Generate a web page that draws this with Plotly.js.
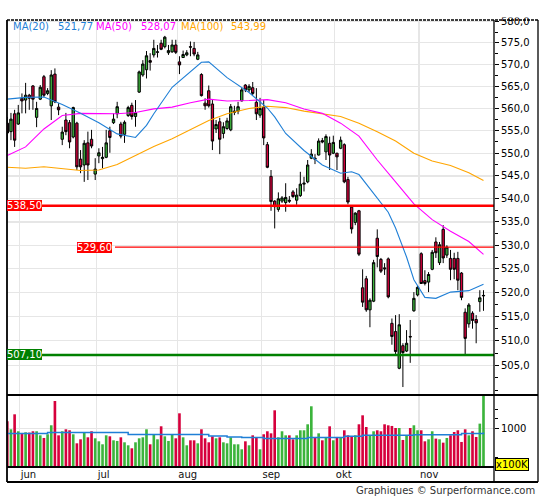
<!DOCTYPE html>
<html><head><meta charset="utf-8">
<script src="https://cdn.plot.ly/plotly-3.0.1.min.js"></script>
<style>html,body{margin:0;padding:0;background:#fff}#chart{width:545px;height:500px}</style>
</head><body><div id="chart"></div>
<script>
// ---- data ----
const open = [556.7,554.8,558.8,556.5,562.3,561.9,563.0,565.1,558.0,562.1,
567.2,563.4,560.6,567.8,560.3,553.1,557.4,556.8,553.6,556.7,
548.7,547.4,552.3,553.1,545.4,549.4,548.8,549.1,555.0,556.8,
558.8,556.5,554.2,558.4,560.7,558.2,563.7,567.6,568.8,570.9,
572.2,572.8,574.9,574.1,572.7,572.9,574.5,570.6,571.6,572.2,
574.1,573.7,571.2,567.7,561.2,564.0,561.0,555.4,557.0,554.4,
555.5,555.2,559.1,559.4,561.7,565.3,564.2,564.7,561.4,558.5,
560.3,551.9,544.9,539.5,537.7,539.5,539.2,539.7,541.5,539.7,
540.7,543.2,543.7,548.9,548.9,549.6,552.8,550.3,552.2,550.0,
550.0,551.1,551.9,544.2,538.2,534.9,537.4,521.0,522.9,516.4,
518.2,531.5,527.0,525.2,527.1,513.6,511.9,504.4,509.0,507.9,
510.9,516.2,519.5,528.2,522.5,522.2,524.9,530.7,526.3,533.4,
527.9,527.2,527.2,527.2,524.1,515.9,513.5,515.7,514.4,518.1,
519.3];
const high = [558.1,559.0,559.7,560.8,563.4,565.8,563.3,565.3,561.5,565.3,
567.6,564.6,568.7,569.1,561.2,555.9,559.0,557.4,560.4,557.0,
550.7,552.9,554.8,555.2,548.9,551.1,551.4,555.2,555.9,558.9,
561.5,557.0,557.3,560.6,561.3,561.9,568.6,571.0,573.1,572.6,
575.7,574.5,575.7,576.6,574.5,575.7,575.7,571.9,573.2,573.3,
575.3,575.2,572.9,568.0,562.3,565.2,561.9,557.4,557.9,556.9,
557.9,561.0,560.6,561.5,564.6,565.5,565.5,566.0,564.6,562.4,
561.9,552.5,546.3,539.7,541.4,540.6,543.4,540.6,541.9,542.3,
545.9,544.8,548.5,550.9,549.8,553.3,553.4,554.2,553.7,553.9,
550.1,553.7,552.2,544.8,538.5,537.1,537.6,524.9,523.5,518.8,
526.9,533.4,527.3,526.2,527.4,514.6,515.3,515.5,509.5,512.2,
514.3,520.1,521.5,528.5,524.7,524.3,529.0,531.7,530.7,534.3,
530.0,529.0,528.4,528.6,524.3,516.7,517.8,516.1,515.3,520.5,
520.5];
const low = [550.3,552.9,551.4,556.3,558.9,558.9,559.7,559.7,555.8,561.9,
562.6,563.0,557.4,561.2,558.5,551.8,554.0,551.1,553.3,546.3,
545.6,543.7,544.1,551.1,544.1,547.8,546.7,548.9,550.1,556.5,
557.8,553.3,552.3,558.1,557.5,555.9,563.5,567.2,566.8,568.6,
571.6,571.6,573.3,573.7,572.2,572.7,572.4,567.8,571.5,571.9,
571.9,571.9,571.0,562.7,559.7,560.2,550.7,554.5,549.8,553.3,
555.2,554.9,558.5,558.7,561.6,563.7,563.7,563.0,557.4,557.9,
551.8,546.7,537.4,533.6,537.2,539.1,537.2,539.1,540.2,538.7,
540.4,541.6,543.4,548.7,547.6,549.5,552.2,548.5,546.3,549.8,
546.3,550.9,543.4,538.8,532.5,534.3,527.7,517.0,516.0,512.8,
518.0,525.3,524.1,523.7,518.8,509.2,507.1,504.2,500.6,507.7,
505.5,516.0,519.2,521.8,521.5,520.1,524.7,527.3,525.8,526.2,
527.3,522.6,522.8,520.5,518.4,506.9,512.7,512.5,509.5,516.0,
516.2];
const close = [554.5,557.6,552.9,559.0,561.7,563.0,562.3,562.1,560.0,564.8,
563.0,564.0,567.6,561.5,559.7,554.7,554.8,552.5,560.2,547.0,
547.0,552.2,547.4,551.6,546.5,550.1,549.1,552.3,553.5,557.6,
560.4,553.8,556.9,560.2,558.2,559.0,568.3,570.1,572.0,570.5,
573.7,572.9,573.5,576.3,573.2,574.5,572.8,569.9,572.3,572.7,
574.0,572.4,572.2,562.9,560.6,560.6,552.7,556.4,553.1,555.9,
557.2,560.4,559.4,560.4,564.2,564.2,565.0,563.4,558.8,560.0,
553.4,546.9,539.4,538.3,540.0,540.2,540.3,539.5,540.5,540.8,
543.2,543.4,547.4,549.8,548.7,552.7,552.5,553.7,549.6,552.4,
549.2,552.9,543.7,539.3,533.5,536.9,528.1,518.0,516.4,518.4,
526.3,527.6,524.5,525.0,519.1,510.9,507.8,513.3,507.6,509.5,
510.8,518.8,521.1,521.9,521.9,523.8,528.5,528.4,530.1,527.3,
529.6,524.9,524.9,522.6,519.0,510.5,517.4,514.2,513.7,518.9,
519.4];
// volume in units of 100K
const volume = [1190,982,1372,930,886,904,895,930,930,825,
756,852,1086,1719,825,930,982,956,852,617,
721,895,773,930,747,669,591,825,799,695,
678,773,643,565,487,643,747,773,982,591,
834,721,1060,799,678,843,747,1398,773,565,
695,695,617,982,747,643,799,747,773,643,
617,773,591,591,461,669,565,825,773,461,
852,930,877,1476,773,930,825,825,721,825,
956,956,1112,1581,756,877,695,782,1060,695,
782,782,956,825,782,825,1112,1346,1042,825,
930,956,930,1112,1086,1069,1016,1016,704,825,
1016,1086,956,956,669,721,930,739,721,634,
756,825,912,956,652,982,825,930,782,1129,
1849];
// moving averages (session index, value)
const ma20Idx = [0,5,10,15,20,25,30,35,38,40,45,50,53,55,60,66,71,73,76,81,86,91,94,96,101,104,106,109,111,114,117,121,126,130];
const ma20 = [562.1,562.5,562.6,560.9,558.9,556.8,554.3,553.5,556.2,558.8,564.8,568.4,570.5,570.6,567.0,563.6,560.1,558.1,554.4,550.6,547.4,545.6,545.9,545.3,540.2,537.1,533.7,527.5,522.7,519.0,518.8,520.1,520.4,521.77];
const maIdx = [0,5,10,15,20,25,30,35,40,45,50,55,60,66,71,76,81,86,91,96,101,106,111,116,121,126,130];
const ma50 = [549.5,551.4,555.4,558.4,558.9,558.9,558.8,559.1,559.9,560.3,561.3,562.1,561.7,561.8,562.0,561.3,559.9,558.9,556.7,553.8,548.5,543.7,538.9,535.5,533.0,530.8,528.07];
const ma100 = [546.9,546.7,547.0,546.6,546.2,546.3,547.5,549.5,551.5,553.2,555.2,557.3,558.8,560.0,560.5,560.2,559.4,558.8,558.2,556.7,554.8,552.7,550.0,548.3,547.3,545.7,543.99];
const volMaIdx = [0,11,33,55,60,64,70,82,92,97,111,124,130];
const volMa = [870,896,844,807,781,766,739,766,799,825,843,870,896];
// horizontal levels
const levels = [538.5, 529.6, 507.1];
// month axis
const monthNames = ['jun','jul','aug','sep','okt','nov'];
const monthStart = [4,25,47,70,90,113];
// price axis ticks
const yTicks = [505,510,515,520,525,530,535,540,545,550,555,560,565,570,575,580];
const yMinor = [500,502.5,507.5,512.5,517.5,522.5,527.5,532.5,537.5,542.5,547.5,552.5,557.5,562.5,567.5,572.5,577.5];
const vTicks = [1000];
const vMinor = [250,1250,1500];

// ---- styling ----
const GREEN = '#3cb43c', RED = '#d6003c';
const BLUE = '#1f7fd6', MAG = '#ff00ff', ORANGE = '#ffa500';
const levelStyle = [
  {color:'#ff0000', width:2.4, start:-2, labelPx:7},
  {color:'#ff0000', width:1.2, start:29.4, labelPx:77.3},
  {color:'#008000', width:2.4, start:-2, labelPx:7}
];
const FONT = 'DejaVu Sans, Verdana, sans-serif';
const fmt = (v, d) => v.toFixed(d).replace('.', ',');
const PX = px => (px - 7) / 487;
const PY = py => (467 - py) / 447;

const idx = open.map((_, i) => i);
const up = close.map((c, i) => c >= open[i]);

const traces = [];
traces.push({
  type:'bar', x: idx, y: volume, yaxis:'y2', xaxis:'x',
  marker:{color: up.map(u => u ? GREEN : RED), line:{width:0}},
  width: 0.72, hoverinfo:'skip'
});
traces.push({
  type:'scatter', mode:'lines', x: volMaIdx, y: volMa, yaxis:'y2',
  line:{color: BLUE, width:1.5, shape:'hv'}, hoverinfo:'skip'
});
traces.push({
  type:'candlestick', x: idx, open, high, low, close, yaxis:'y',
  increasing:{line:{color:'#000', width:1}, fillcolor: GREEN},
  decreasing:{line:{color:'#000', width:1}, fillcolor: RED},
  whiskerwidth: 0, hoverinfo:'skip'
});
traces.push({type:'scatter', mode:'lines', x: maIdx, y: ma100, line:{color:ORANGE, width:1.1}, hoverinfo:'skip'});
traces.push({type:'scatter', mode:'lines', x: maIdx, y: ma50, line:{color:MAG, width:1.1}, hoverinfo:'skip'});
traces.push({type:'scatter', mode:'lines', x: ma20Idx, y: ma20, line:{color:BLUE, width:1.1}, hoverinfo:'skip'});
levels.forEach((lv, k) => {
  traces.push({type:'scatter', mode:'lines', x:[levelStyle[k].start, 140], y:[lv, lv],
    line:{color: levelStyle[k].color, width: levelStyle[k].width}, hoverinfo:'skip'});
});

const annotations = [];
const legendItems = [
  {t:'MA(20)', c:BLUE, px:11}, {t: fmt(ma20[ma20.length-1], 2), c:BLUE, px:56},
  {t:'MA(50)', c:MAG, px:94}, {t: fmt(ma50[ma50.length-1], 2), c:MAG, px:139},
  {t:'MA(100)', c:ORANGE, px:179}, {t: fmt(ma100[ma100.length-1], 2), c:ORANGE, px:229}
];
legendItems.forEach(it => annotations.push({
  xref:'paper', yref:'paper', x: PX(it.px), y: PY(26.7), xanchor:'left', yanchor:'middle',
  text: it.t, showarrow:false, font:{family:FONT, size:10, color: it.c}
}));
levels.forEach((lv, k) => annotations.push({
  xref:'paper', yref:'y', x: PX(levelStyle[k].labelPx), y: Math.log10(lv), xanchor:'left', yanchor:'middle',
  text: fmt(lv, 2), showarrow:false, bgcolor: levelStyle[k].color, borderpad:0, borderwidth:0,
  font:{family:FONT, size:10, color:'#ffffff'}
}));
annotations.push({
  xref:'paper', yref:'paper', x: PX(495), y: PY(464.3), xanchor:'left', yanchor:'middle',
  text:'x100K', showarrow:false, bgcolor:'#ffff00', bordercolor:'#000', borderwidth:1, borderpad:0,
  font:{family:FONT, size:10, color:'#000'}
});
annotations.push({
  xref:'paper', yref:'paper', x: PX(537), y: PY(491), xanchor:'right', yanchor:'middle',
  text:'Graphiques © Surperformance.com', showarrow:false,
  font:{family:FONT, size:10, color:'#333'}
});

const ln = (x0, y0, x1, y1, extra) => Object.assign({type:'line', xref:'paper', yref:'paper',
  x0: PX(x0), y0: PY(y0), x1: PX(x1), y1: PY(y1), line:{color:'#000', width:1.3}}, extra || {});
const shapes = [
  {type:'rect', xref:'paper', yref:'paper', x0: PX(495), x1: PX(537), y0: PY(17.5), y1: PY(0),
   fillcolor:'#ffffff', line:{width:0}, layer:'above'},
  ln(7, 20, 7, 482, {line:{color:'#000', width:1.8}}),
  ln(494, 20, 494, 482),
  ln(538, 20, 538, 482),
  ln(7, 20, 538, 20, {line:{color:'#000', width:1.3, dash:'3px,1px'}}),
  ln(7, 482, 538, 482, {line:{color:'#000', width:1.8}}),
  ln(7, 395, 538, 395, {line:{color:'#000', width:1.8}}),
  ln(7, 467, 494, 467, {line:{color:'#000', width:1.8}})
];

const GRID = '#e6e6e6';
const layout = {
  width:545, height:500,
  margin:{l:7, r:51, t:20, b:33, pad:0},
  paper_bgcolor:'#fff', plot_bgcolor:'#fff',
  showlegend:false, hovermode:false, dragmode:false,
  font:{family:FONT, size:10, color:'#000'},
  boxgap:0.2, boxgroupgap:0.2,
  xaxis:{
    type:'linear', range:[-0.08, 132.87], anchor:'y2',
    tickmode:'array', tickvals: monthStart.map(s => s - 0.6), ticktext: monthNames,
    ticks:'', showgrid:true, gridcolor:GRID, gridwidth:1.2, zeroline:false, showline:false,
    ticklabelposition:'outside right', ticklabelshift:1,
    tickfont:{family:FONT, size:10, color:'#111'},
    rangeslider:{visible:false}, fixedrange:true
  },
  yaxis:{
    type:'log', domain:[0.1611, 1], range:[Math.log10(499.0), Math.log10(580.3)],
    side:'right', anchor:'x',
    tickmode:'array', tickvals: yTicks, ticktext: yTicks.map(v => fmt(v, 1)),
    ticks:'outside', ticklen:4, tickcolor:'#000', tickwidth:1,
    showgrid:true, gridcolor:GRID, gridwidth:1.2, zeroline:false, showline:false,
    minor:{tickmode:'array', tickvals: yMinor, ticks:'outside', ticklen:3, tickcolor:'#000', showgrid:false},
    tickfont:{family:FONT, size:10, color:'#000'}, fixedrange:true
  },
  yaxis2:{
    domain:[0, 0.1611], range:[0, 1875], side:'right', anchor:'x',
    tickmode:'array', tickvals: vTicks, ticktext: vTicks.map(String),
    ticks:'outside', ticklen:4, tickcolor:'#000',
    showgrid:true, gridcolor:GRID, gridwidth:1.2, zeroline:false, showline:false,
    minor:{tickmode:'array', tickvals: vMinor, ticks:'outside', ticklen:3, tickcolor:'#000', showgrid:false},
    tickfont:{family:FONT, size:10, color:'#000'}, fixedrange:true
  },
  shapes, annotations
};
Plotly.newPlot('chart', traces, layout, {displayModeBar:false, staticPlot:true});
</script>
</body></html>
